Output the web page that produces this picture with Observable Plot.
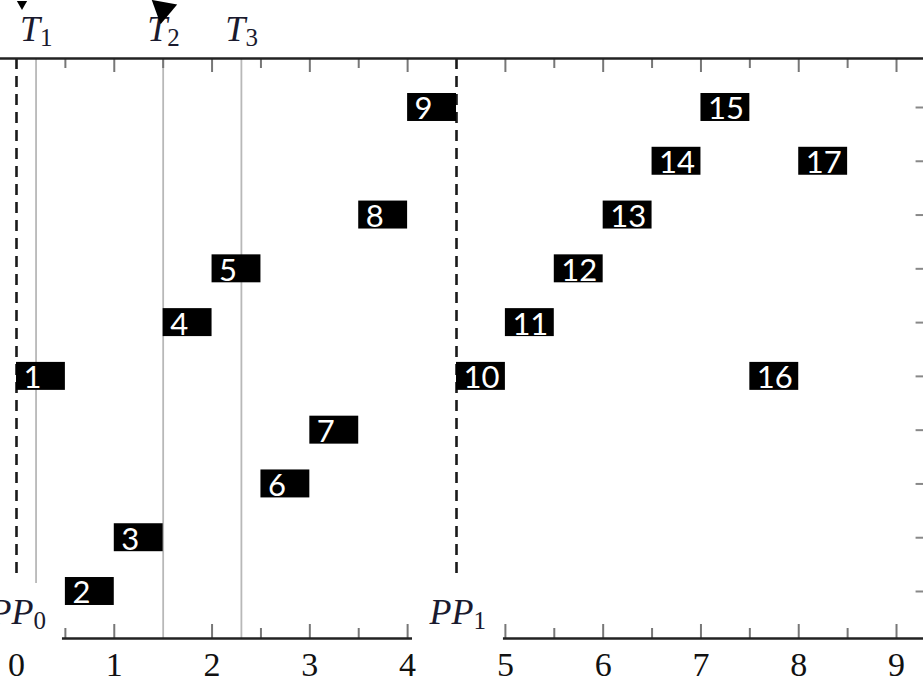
<!DOCTYPE html>
<html>
<head>
<meta charset="utf-8">
<script src="https://cdn.jsdelivr.net/npm/d3@7"></script>
<script src="https://cdn.jsdelivr.net/npm/@observablehq/plot@0.6"></script>
<style>
  html, body { margin: 0; padding: 0; background: #fff; }
  #chart svg { display: block; }
</style>
</head>
<body>
<div id="chart"></div>
<script>
// ---- data ----
const taskIds    = [1, 2, 3, 4, 5, 6, 7, 8, 9, 10, 11, 12, 13, 14, 15, 16, 17];
const taskStart  = [0, 0.5, 1.0, 1.5, 2.0, 2.5, 3.0, 3.5, 4.0, 4.5, 5.0, 5.5, 6.0, 6.5, 7.0, 7.5, 8.0];
const taskEnd    = [0.5, 1.0, 1.5, 2.0, 2.5, 3.0, 3.5, 4.0, 4.5, 5.0, 5.5, 6.0, 6.5, 7.0, 7.5, 8.0, 8.5];
const taskRow    = [5, 1, 2, 6, 7, 3, 4, 8, 10, 5, 6, 7, 8, 9, 10, 5, 9];

const tValues    = [0.2, 1.5, 2.3];
const tMain      = ["T", "T", "T"];
const tSubs      = ["1", "2", "3"];

const ppValues   = [0, 4.5];
const ppMain     = ["PP", "PP"];
const ppSubs     = ["0", "1"];

const xTickLabels = [0, 1, 2, 3, 4, 5, 6, 7, 8, 9];
const majorTicks  = [1, 2, 3, 4, 5, 6, 7, 8, 9];
const minorTicksTop    = [0.5, 1.5, 2.5, 3.5, 5.5, 6.5, 7.5, 8.5];
const minorTicksBottom = [0.5, 2.5, 3.5, 5.5, 6.5, 7.5, 8.5];
const rowLevels   = [1, 2, 3, 4, 5, 6, 7, 8, 9, 10];
const bottomAxisSegments = [{x1: 0.47, x2: 4.05}, {x1: 4.98, x2: 9.5}];

// ---- derived tables ----
const tasks = taskIds.map((id, i) => ({id: String(id), start: taskStart[i], end: taskEnd[i], row: taskRow[i]}));
const tMarks = tValues.map((x, i) => ({x, main: tMain[i], sub: tSubs[i]}));
const ppMarks = ppValues.map((x, i) => ({x, main: ppMain[i], sub: ppSubs[i]}));

const xDomain = [-0.1636, 9.276];
const yDomain = [0.126, 10.911];
const frameH = 682 - 58 - 44;
const serif = "'Liberation Serif', 'DejaVu Serif', serif";

const chart = Plot.plot({
  width: 923,
  height: 682,
  marginLeft: 0,
  marginRight: 0,
  marginTop: 58,
  marginBottom: 44,
  x: {domain: xDomain, axis: null},
  y: {domain: yDomain, axis: null},
  style: {background: "#fff"},
  marks: [
    // T lines
    Plot.ruleX([tMarks[0]], {x: "x", stroke: "#b8b8b8", strokeWidth: 1.8, insetBottom: 55}),
    Plot.ruleX(tMarks.slice(1), {x: "x", stroke: "#b8b8b8", strokeWidth: 1.8}),
    // PP dashed lines
    Plot.ruleX(ppMarks, {x: "x", stroke: "#1a1a1a", strokeWidth: 2.6, strokeDasharray: "11,7", insetBottom: 61}),
    // top ticks
    Plot.ruleX(majorTicks, {x: d => d, stroke: "#777", strokeWidth: 2, insetBottom: frameH - 14}),
    Plot.ruleX(minorTicksTop, {x: d => d, stroke: "#777", strokeWidth: 2, insetBottom: frameH - 10}),
    // bottom ticks
    Plot.ruleX(majorTicks, {x: d => d, stroke: "#777", strokeWidth: 2, insetTop: frameH - 14}),
    Plot.ruleX(minorTicksBottom, {x: d => d, stroke: "#777", strokeWidth: 2, insetTop: frameH - 10}),
    // top axis line
    Plot.frame({anchor: "top", stroke: "#222", strokeWidth: 2.5}),
    // bottom axis segments
    Plot.ruleY(bottomAxisSegments, {y: yDomain[0], x1: "x1", x2: "x2", stroke: "#222", strokeWidth: 2.5}),
    // right side row ticks
    Plot.ruleY(rowLevels, {y: d => d, x1: 9.2, x2: 9.5, stroke: "#888", strokeWidth: 2}),
    // bars
    Plot.rect(tasks, {x1: "start", x2: "end", y1: d => d.row - 0.26, y2: d => d.row + 0.26, fill: "black"}),
    Plot.text(tasks, {x: "start", y: "row", text: "id", fill: "white", fontSize: 31,
      fontFamily: "Lato, 'Open Sans', sans-serif", textAnchor: "start", dx: 7, dy: 2}),
    // T labels
    Plot.text(tMarks, {x: "x", text: "main", frameAnchor: "top", dy: -18, lineAnchor: "bottom",
      textAnchor: "end", dx: 4, fontStyle: "italic", fontFamily: serif, fontSize: 36, fill: "#1a1a2e"}),
    Plot.text(tMarks, {x: "x", text: "sub", frameAnchor: "top", dy: -13, lineAnchor: "bottom",
      textAnchor: "start", dx: 4, fontFamily: serif, fontSize: 25, fill: "#1a1a2e"}),
    // PP labels
    Plot.text(ppMarks, {x: "x", text: "main", frameAnchor: "bottom", dy: -15, lineAnchor: "bottom",
      textAnchor: "end", dx: 17, fontStyle: "italic", fontFamily: serif, fontSize: 36, fill: "#1a1a2e"}),
    Plot.text(ppMarks, {x: "x", text: "sub", frameAnchor: "bottom", dy: -10, lineAnchor: "bottom",
      textAnchor: "start", dx: 17, fontFamily: serif, fontSize: 25, fill: "#1a1a2e"}),
    // bottom tick labels
    Plot.text(xTickLabels, {x: d => d, text: d => String(d), frameAnchor: "bottom", dy: 37, lineAnchor: "bottom",
      fontFamily: serif, fontSize: 34, fill: "#111"}),
    // arrow heads (from the surrounding figure)
    Plot.dot([ppValues[0]], {x: d => d, frameAnchor: "top", dx: 5.5, dy: -54.5, symbol: "triangle", r: 3.8, fill: "black", rotate: 180}),
    Plot.dot([tValues[1]], {x: d => d, frameAnchor: "top", dy: -49, symbol: "triangle", r: 9.6, fill: "black", rotate: 190})
  ]
});
document.getElementById("chart").appendChild(chart);
</script>
</body>
</html>
